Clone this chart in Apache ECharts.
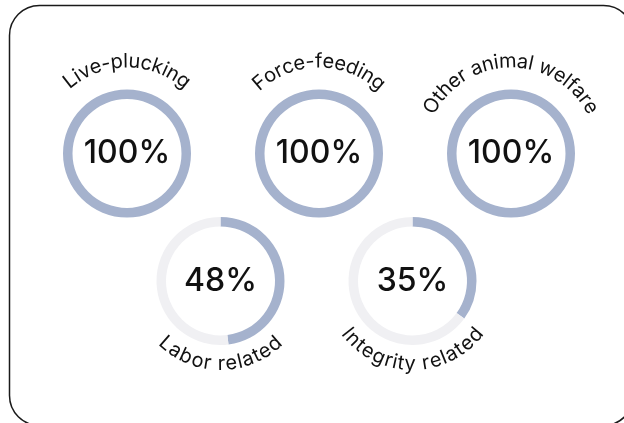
<!DOCTYPE html>
<html><head><meta charset="utf-8">
<script src="https://cdn.jsdelivr.net/npm/echarts@6/dist/echarts.min.js"></script>
<style>html,body{margin:0;padding:0;background:#fff}#c{width:624px;height:423px}</style>
</head><body><div id="c"></div>
<script>
const categories = ['Live-plucking', 'Force-feeding', 'Other animal welfare', 'Labor related', 'Integrity related'];
const values = [100, 100, 100, 48, 35];
const labelSides = ['top', 'top', 'top', 'bottom', 'bottom'];

const centers = [[127, 153.5], [319, 153.5], [511, 153.5], [220.5, 281], [412.5, 281]];
const ACCENT = '#a5b2cd';
const TRACK = '#f0f0f3';
const FONT_FAMILY = 'Inter, "Noto Sans", sans-serif';
const LABEL_FONT = '400 20px ' + FONT_FAMILY;
const LETTER_SP = 0.4;

const chart = echarts.init(document.getElementById('c'), null, {renderer: 'canvas'});

const series = values.map((v, i) => {
  const data = [{
    value: v, itemStyle: {color: ACCENT},
    label: {show: true}
  }];
  if (100 - v > 0) data.push({value: 100 - v, itemStyle: {color: TRACK}, label: {show: false}});
  return {
    type: 'pie', silent: true, animation: false,
    center: centers[i], radius: [54.5, 64],
    startAngle: 90, clockwise: true,
    label: {show: false, position: 'center', formatter: '{c}%', fontSize: 32,
      fontFamily: FONT_FAMILY, fontWeight: 500, color: '#111'},
    labelLine: {show: false},
    emphasis: {disabled: true},
    data
  };
});

const mctx = document.createElement('canvas').getContext('2d');
function curvedText(text, cx, cy, r, side) {
  mctx.font = LABEL_FONT;
  const chars = [...text];
  const ws = chars.map(ch => mctx.measureText(ch).width);
  const total = ws.reduce((a, b) => a + b, 0) + LETTER_SP * (chars.length - 1);
  const span = total / r;
  let acc = 0;
  const out = [];
  chars.forEach((ch, i) => {
    const a = -span / 2 + (acc + ws[i] / 2) / r;
    acc += ws[i] + LETTER_SP;
    if (ch === ' ') return;
    let x, y, rot;
    if (side === 'top') { x = cx + r * Math.sin(a); y = cy - r * Math.cos(a); rot = -a; }
    else { x = cx + r * Math.sin(a); y = cy + r * Math.cos(a); rot = a; }
    out.push({type: 'text', x, y, rotation: rot, silent: true,
      style: {text: ch, font: LABEL_FONT, fill: '#111', align: 'center', verticalAlign: 'middle'}});
  });
  return out;
}

const graphics = [{
  type: 'rect', silent: true,
  shape: {x: 9.5, y: 5.5, width: 624, height: 420, r: 30},
  style: {fill: 'none', stroke: '#1a1a1a', lineWidth: 1.5}
}];
categories.forEach((c, i) => {
  const [cx, cy] = centers[i];
  const r = labelSides[i] === 'top' ? 92 : 83;
  graphics.push(...curvedText(c, cx, cy, r, labelSides[i]));
});

chart.setOption({
  animation: false,
  backgroundColor: '#fff',
  series,
  graphic: graphics
});
</script></body></html>
